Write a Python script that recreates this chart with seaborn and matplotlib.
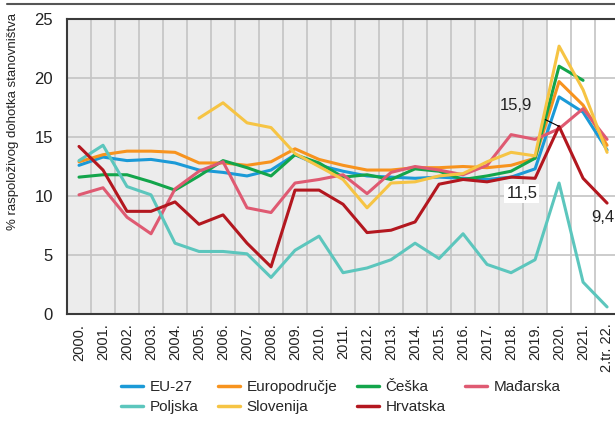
import numpy as np
import pandas as pd
import matplotlib.pyplot as plt
import seaborn as sns
from matplotlib.lines import Line2D

# categories (years) and series values, % of disposable income
years = [f"{y}." for y in range(2000, 2022)] + ["2.tr. 22."]

eu27 = [12.6, 13.3, 13.0, 13.1, 12.8, 12.2, 12.0, 11.7, 12.2, 13.5, 12.6, 12.1,
        11.7, 11.6, 11.5, 11.6, 11.5, 11.4, 11.6, 12.3, 18.4, 17.1, 13.9]
europodrucje = [12.9, 13.5, 13.8, 13.8, 13.7, 12.8, 12.8, 12.6, 12.9, 14.0, 13.1, 12.6,
                12.2, 12.2, 12.4, 12.4, 12.5, 12.4, 12.6, 13.2, 19.7, 17.7, 14.3]
ceska = [11.6, 11.8, 11.8, 11.2, 10.5, 11.7, 13.0, 12.4, 11.7, 13.5, 12.8, 11.6,
         11.8, 11.4, 12.3, 12.1, 11.4, 11.7, 12.1, 13.2, 21.0, 19.8, np.nan]
madarska = [10.1, 10.7, 8.2, 6.8, 10.6, 12.1, 12.9, 9.0, 8.6, 11.1, 11.4, 11.8,
            10.2, 12.0, 12.5, 12.2, 11.8, 12.6, 15.2, 14.8, 15.7, 17.4, 14.8]
poljska = [13.0, 14.3, 10.8, 10.1, 6.0, 5.3, 5.3, 5.1, 3.1, 5.4, 6.6, 3.5,
           3.9, 4.6, 6.0, 4.7, 6.8, 4.2, 3.5, 4.6, 11.1, 2.7, 0.6]
slovenija = [np.nan, np.nan, np.nan, np.nan, np.nan, 16.6, 17.9, 16.2, 15.8, 13.6, 12.5, 11.4,
             9.0, 11.1, 11.2, 11.7, 11.9, 12.9, 13.7, 13.4, 22.7, 19.0, 13.7]
hrvatska = [14.2, 12.2, 8.7, 8.7, 9.5, 7.6, 8.4, 6.0, 4.0, 10.5, 10.5, 9.3,
            6.9, 7.1, 7.8, 11.0, 11.4, 11.2, 11.6, 11.5, 15.9, 11.5, 9.4]

series = {
    "EU-27": eu27,
    "Europodručje": europodrucje,
    "Češka": ceska,
    "Mađarska": madarska,
    "Poljska": poljska,
    "Slovenija": slovenija,
    "Hrvatska": hrvatska,
}
colors = {
    "EU-27": "#1b9ad7",
    "Europodručje": "#f7931e",
    "Češka": "#13a54b",
    "Mađarska": "#df5a72",
    "Poljska": "#5cc6bd",
    "Slovenija": "#f6c444",
    "Hrvatska": "#b3171f",
}

rows = []
for name, vals in series.items():
    for i, v in enumerate(vals):
        rows.append({"pos": i, "value": v, "zemlja": name})
df = pd.DataFrame(rows).dropna()

sns.set_style("white")
plt.rcParams["font.family"] = ["Liberation Sans", "DejaVu Sans"]

fig = plt.figure(figsize=(6.15, 4.23), dpi=100)
ax = fig.add_axes([67 / 615, 1 - 314 / 423, 548 / 615, 295 / 423])

# shaded historic period + gridlines
ax.axvspan(-0.5, 19.5, color="#ececec", zorder=0, lw=0)
for xv in np.arange(0.5, 22, 1):
    ax.axvline(xv, color="#c4c4c4", lw=1.2, zorder=1)
for yv in [5, 10, 15, 20]:
    ax.axhline(yv, color="#c4c4c4", lw=1.2, zorder=1)

sns.lineplot(data=df, x="pos", y="value", hue="zemlja", hue_order=list(series),
             palette=colors, lw=2.2, sort=False, legend=False, ax=ax, zorder=3)

ax.set_xlim(-0.5, 22.33)
ax.set_ylim(0, 25)
ax.set_xticks(range(len(years)))
ax.set_xticklabels(years, rotation=90, fontsize=10.5, color="#222222")
ax.set_yticks([0, 5, 10, 15, 20, 25])
ax.set_yticklabels(["0", "5", "10", "15", "20", "25"], fontsize=12, color="#222222")
ax.tick_params(axis="both", length=0)
ax.tick_params(axis="x", pad=7)
ax.tick_params(axis="y", pad=10)
ax.set_xlabel("")
ax.set_ylabel("")
for s in ["left", "bottom", "top"]:
    ax.spines[s].set_color("#3a3a3a")
    ax.spines[s].set_linewidth(1.5)
ax.spines["right"].set_visible(False)

fig.text(13 / 615, 1 - 13 / 423, "% raspoloživog dohotka stanovništva",
         rotation=90, ha="center", va="top", fontsize=9.5, color="#222222")

# rule at the very top
fig.add_artist(Line2D([7 / 615, 1], [1 - 4 / 423, 1 - 4 / 423], color="#555555", lw=1.5))

# annotations
ax.annotate("15,9", xy=(20, hrvatska[20]), xytext=(18.2, 17.7), fontsize=12,
            color="#222222", ha="center", va="center",
            arrowprops=dict(arrowstyle="-", color="black", lw=0.8,
                            shrinkA=8, shrinkB=0))
ax.text(18.45, 10.2, "11,5", fontsize=12, color="#222222", ha="center", va="center",
        bbox=dict(facecolor="white", edgecolor="none", pad=1.5), zorder=4)
ax.text(21.82, 8.2, "9,4", fontsize=12, color="#222222", ha="center", va="center",
        clip_on=False, zorder=4)

# legend laid out in rows of four
order = ["EU-27", "Poljska", "Europodručje", "Slovenija", "Češka", "Hrvatska", "Mađarska"]
handles = [Line2D([0], [0], color=colors[n], lw=2.5) for n in order]
fig.legend(handles, order, loc="upper center", bbox_to_anchor=(341 / 615, 1 - 371 / 423),
           ncol=4, frameon=False, fontsize=11, handlelength=1.4, handletextpad=0.45,
           columnspacing=1.3, labelspacing=0.4, borderpad=0.1)

fig.savefig("out.png", dpi=100)
